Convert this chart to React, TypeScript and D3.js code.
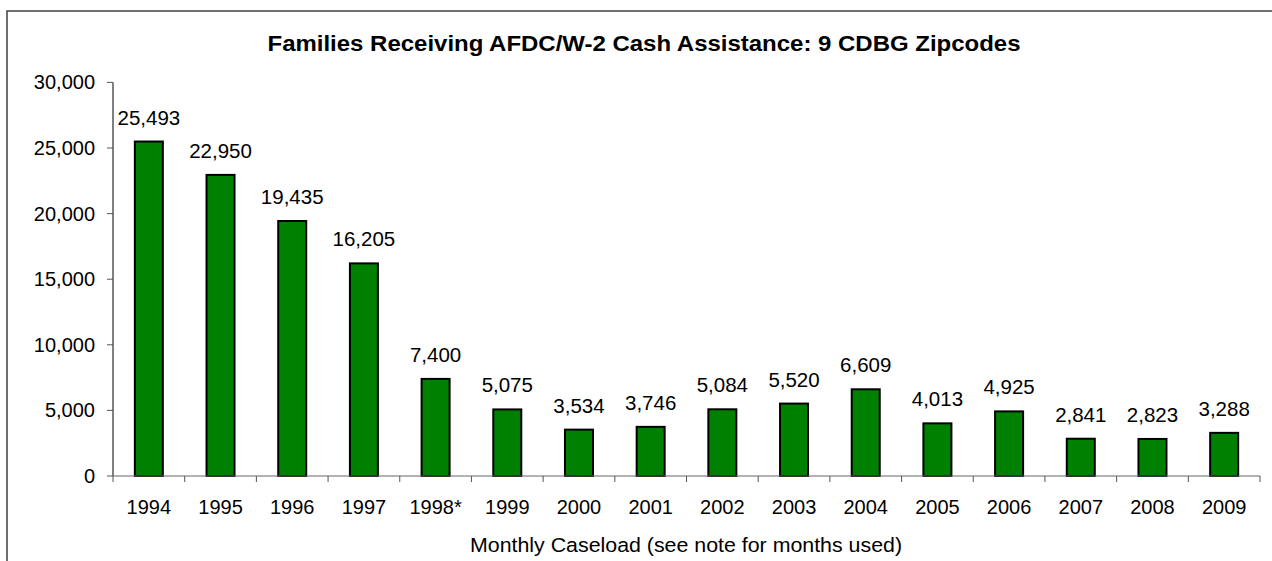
import React from "react";
import * as d3 from "d3";

const years = ["1994","1995","1996","1997","1998*","1999","2000","2001","2002","2003","2004","2005","2006","2007","2008","2009"];
const caseload = [25493,22950,19435,16205,7400,5075,3534,3746,5084,5520,6609,4013,4925,2841,2823,3288];
const yTicks = [0,5000,10000,15000,20000,25000,30000];
const title = "Families Receiving AFDC/W-2 Cash Assistance: 9 CDBG Zipcodes";
const xTitle = "Monthly Caseload (see note for months used)";

const W = 1272, H = 561;
const left = 113, right = 1260, top = 82.4, bottom = 476;
const font = "'Liberation Sans', Arial, sans-serif";

export default function App() {
  const x = d3.scaleBand<string>().domain(years).range([left, right]).paddingInner(0).paddingOuter(0);
  const y = d3.scaleLinear().domain([0, 30000]).range([bottom, top]);
  const fmt = d3.format(",");
  const bw = 28;
  const ticksX = years.map((_, i) => left + i * x.bandwidth()).concat([right]);
  return (
    <svg width={W} height={H} style={{ position: "absolute", left: 0, top: 0, background: "#fff" }} fontFamily={font}>
      <rect x={7} y={11} width={W + 20} height={H + 20} fill="#fff" stroke="#404040" strokeWidth={1.5} />
      <text x={644} y={51} textAnchor="middle" fontWeight="bold" fontSize={22} textLength={753} lengthAdjust="spacingAndGlyphs" fill="#000">{title}</text>
      {/* y axis */}
      <line x1={left} x2={left} y1={top} y2={bottom} stroke="#000" strokeWidth={1} />
      {yTicks.map(t => (
        <g key={t}>
          <line x1={left - 6} x2={left} y1={y(t)} y2={y(t)} stroke="#555" strokeWidth={1} />
          <text x={95} y={y(t) + 7} textAnchor="end" fontSize={20} fill="#000">{fmt(t)}</text>
        </g>
      ))}
      {/* bars */}
      {years.map((yr, i) => {
        const cx = (x(yr) as number) + x.bandwidth() / 2;
        return (
          <g key={yr}>
            <rect x={cx - bw / 2} y={y(caseload[i])} width={bw} height={bottom - y(caseload[i])} fill="#008000" stroke="#000" strokeWidth={2} />
            <text x={cx} y={y(caseload[i]) - 17} textAnchor="middle" fontSize={20.5} fill="#000">{fmt(caseload[i])}</text>
            <text x={cx} y={514} textAnchor="middle" fontSize={20} fill="#000">{yr}</text>
          </g>
        );
      })}
      {/* x axis */}
      <line x1={left} x2={right} y1={bottom} y2={bottom} stroke="#666" strokeWidth={1} />
      {ticksX.map((t, i) => (
        <line key={i} x1={t} x2={t} y1={bottom} y2={bottom + 6} stroke="#555" strokeWidth={1} />
      ))}
      <text x={686} y={552} textAnchor="middle" fontSize={20.5} textLength={432} lengthAdjust="spacingAndGlyphs" fill="#000">{xTitle}</text>
    </svg>
  );
}
